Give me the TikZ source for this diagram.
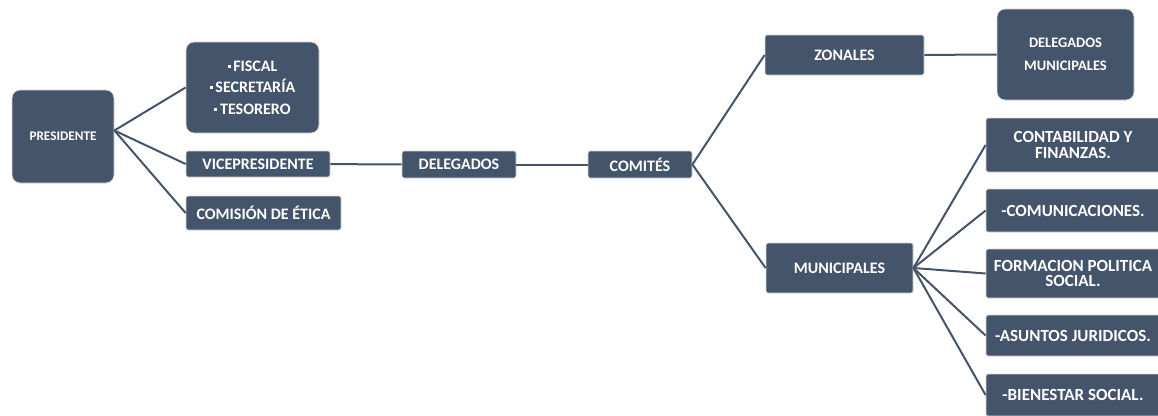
\documentclass[tikz,border=0pt]{standalone}
\usepackage{fontspec}
\setmainfont{Carlito}
\usepackage{tikz}
\definecolor{boxfill}{HTML}{44546A}
\tikzset{
  box/.style={fill=boxfill, draw=black!15, line width=0.8pt, text=white,
    font=\bfseries\fontsize{16}{16}\selectfont, align=center, inner sep=0pt,
    rounded corners=2pt},
  bigbox/.style={box, rounded corners=8pt},
  sidebox/.style={box, minimum width=174, font=\bfseries\fontsize{17}{15.5}\selectfont},
  link/.style={draw=boxfill, line width=2pt}
}
\def\sq{\raisebox{3.5pt}{\rule{3pt}{3pt}}\,}

\begin{document}
\begin{tikzpicture}[x=1pt,y=-1pt]
                \useasboundingbox (0,0) rectangle (1158,415);
                \node[bigbox, minimum width=102, minimum height=93,
                  font=\bfseries\fontsize{13.2}{13}\selectfont] (pres) at (63,136.5) {PRESIDENTE};
                \node[bigbox, minimum width=133, minimum height=91,
                  font=\bfseries\fontsize{16}{21.5}\selectfont] (fiscal) at (252.5,87.5)
                  {\sq FISCAL\\ \sq SECRETARÍA\\ \sq TESORERO};
                \node[box, minimum width=144, minimum height=26] (vice) at (258,164) {VICEPRESIDENTE};
                \node[box, minimum width=155, minimum height=34] (etica) at (263.5,213) {COMISIÓN DE ÉTICA};
                \node[box, minimum width=114, minimum height=27] (deleg) at (459,164.5) {DELEGADOS};
                \node[box, minimum width=104, minimum height=27] (comites) at (640,164.5) {COMITÉS};
                \node[box, minimum width=159, minimum height=40] (zonales) at (844.5,55) {ZONALES};
                \node[bigbox, minimum width=137, minimum height=91,
                  font=\bfseries\fontsize{14.5}{23}\selectfont] (delmun) at (1065.5,54.5)
                  {DELEGADOS\\MUNICIPALES};
                \node[box, minimum width=147, minimum height=50] (munic) at (839.5,268) {MUNICIPALES};
                \node[sidebox, minimum height=54] (contab) at (1073,145) {CONTABILIDAD Y\\FINANZAS.};
                \node[sidebox, minimum height=43] (comun) at (1073,210.5) {-COMUNICACIONES.};
                \node[sidebox, minimum height=49] (formac) at (1073,273.5) {FORMACION POLITICA\\SOCIAL.};
                \node[sidebox, minimum height=41] (asuntos) at (1073,335.5) {-ASUNTOS JURIDICOS.};
                \node[sidebox, minimum height=42] (bienestar) at (1073,395) {-BIENESTAR SOCIAL.};
                % connectors
                \foreach \t in {fiscal,vice,etica}
                  \draw[link] ([yshift=6pt]pres.east) -- (\t.west);
                \draw[link] (vice) -- (deleg);
                \draw[link] (deleg) -- (comites);
                \draw[link] (comites.east) -- (zonales.west);
                \draw[link] (comites.east) -- (munic.west);
                \draw[link] (zonales) -- (delmun);
                \foreach \t in {contab,comun,formac,asuntos,bienestar}
                  \draw[link] (munic.east) -- (\t.west);
            \end{tikzpicture}
\end{document}
